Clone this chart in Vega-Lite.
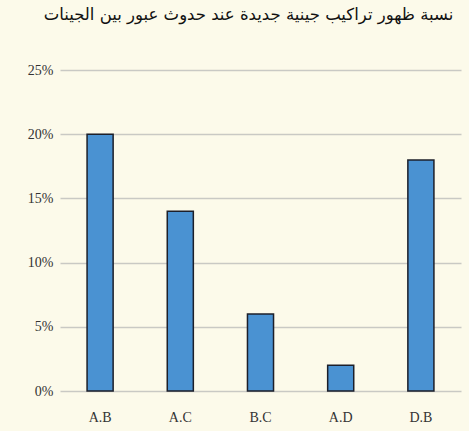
{
  "$schema": "https://vega.github.io/schema/vega-lite/v6.json",
  "width": 401,
  "height": 321,
  "autosize": {"type": "none"},
  "padding": {"left": 60, "top": 70, "right": 8, "bottom": 40},
  "background": "#fcfaea",
  "title": {
    "text": "نسبة ظهور تراكيب جينية جديدة عند حدوث عبور بين الجينات",
    "font": "DejaVu Sans",
    "fontSize": 16.5,
    "fontWeight": "normal",
    "color": "#111111",
    "anchor": "middle",
    "dx": -12,
    "offset": 40
  },
  "data": {
    "values": [
      {"pair": "A.B", "pct": 20},
      {"pair": "A.C", "pct": 14},
      {"pair": "B.C", "pct": 6},
      {"pair": "A.D", "pct": 2},
      {"pair": "D.B", "pct": 18}
    ]
  },
  "mark": {"type": "bar", "fill": "#4a92d2", "stroke": "#1c1f2a", "strokeWidth": 1.5},
  "encoding": {
    "x": {
      "field": "pair",
      "type": "nominal",
      "sort": null,
      "scale": {"paddingInner": 0.675, "paddingOuter": 0.3375},
      "axis": {
        "title": null,
        "labelAngle": 0,
        "domain": false,
        "ticks": false,
        "labelFont": "Liberation Serif",
        "labelFontSize": 14,
        "labelColor": "#333333",
        "labelPadding": 19
      }
    },
    "y": {
      "field": "pct",
      "type": "quantitative",
      "scale": {"domain": [0, 25], "nice": false},
      "axis": {
        "title": null,
        "values": [0, 5, 10, 15, 20, 25],
        "labelExpr": "datum.value + '%'",
        "domain": false,
        "ticks": false,
        "labelFont": "Liberation Serif",
        "labelFontSize": 14,
        "labelColor": "#333333",
        "labelPadding": 7,
        "grid": true,
        "gridColor": "#c9c9c4",
        "gridWidth": 1.5
      }
    }
  },
  "config": {"view": {"stroke": null}}
}
